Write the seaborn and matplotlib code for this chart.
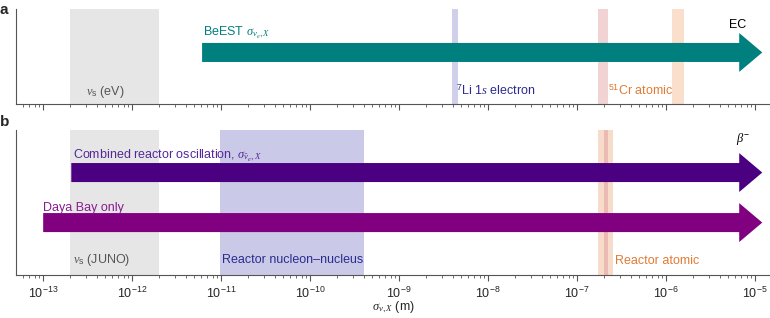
import matplotlib
matplotlib.use("Agg")
import matplotlib.pyplot as plt
import seaborn as sns

# x range of the log axis (m)
x_lim = (10 ** -13.30, 10 ** -4.834)

# panel a: background bands (start, end, colour)
bands_a = [
    (2.0e-13, 2.0e-12, "#e6e6e6"),   # nu_s (eV)
    (3.95e-9, 4.6e-9, "#d0d0eb"),    # 7Li 1s electron
    (1.72e-7, 2.23e-7, "#f1d3d3"),   # 51Cr atomic (pink)
    (1.17e-6, 1.59e-6, "#f9dfcc"),   # 51Cr atomic (peach)
]
# panel b: background bands
bands_b = [
    (2.0e-13, 2.0e-12, "#e6e6e6"),   # nu_s (JUNO)
    (9.8e-12, 4.05e-10, "#cacae8"),  # reactor nucleon-nucleus
    (1.72e-7, 2.5e-7, "#f8dccb"),    # reactor atomic (outer)
    (2.0e-7, 2.23e-7, "#ebbab3"),    # reactor atomic (inner)
]

# arrows: (start, tip, height in axes fraction, colour)
arrows_a = [(6.1e-12, 1.2e-5, 0.542, "#007f7f")]
arrows_b = [
    (2.07e-13, 1.2e-5, 0.707, "#4b0082"),  # combined reactor oscillation
    (1.0e-13, 1.2e-5, 0.362, "#800080"),   # Daya Bay only
]

# labels: (x, y in axes fraction, text, colour)
labels_a = [
    (10 ** -11.2, 0.73, r"BeEST $\sigma_{\nu_e,X}$", "#007f7f"),
    (10 ** -5.30, 0.80, "EC", "black"),
    (10 ** -12.52, 0.09, r"$\nu_{\rm s}$ (eV)", "#555555"),
    (10 ** -8.36, 0.09, r"$^{7}$Li 1$\it{s}$ electron", "#2b2b8f"),
    (10 ** -6.65, 0.09, r"$^{51}$Cr atomic", "#e07b35"),
]
labels_b = [
    (10 ** -12.67, 0.81, r"Combined reactor oscillation, $\sigma_{\bar{\nu}_e,X}$", "#55279a"),
    (10 ** -13.0, 0.445, "Daya Bay only", "#8a1a8f"),
    (10 ** -12.67, 0.08, r"$\nu_{\rm s}$ (JUNO)", "#555555"),
    (10 ** -10.99, 0.08, "Reactor nucleon\u2013nucleus", "#2b2b8f"),
    (10 ** -6.57, 0.075, "Reactor atomic", "#e07b35"),
    (10 ** -5.22, 0.92, r"$\beta^{-}$", "black"),
]

sns.set_style("ticks")
plt.rcParams["font.family"] = ["Liberation Sans", "DejaVu Sans"]
plt.rcParams["mathtext.fontset"] = "custom"
plt.rcParams["mathtext.rm"] = "Liberation Sans"
plt.rcParams["mathtext.it"] = "Liberation Serif:italic"
plt.rcParams["mathtext.bf"] = "Liberation Sans:bold"

FS = 9
fig = plt.figure(figsize=(7.7, 3.18), dpi=100)
ax_a = fig.add_axes([0.0214, 0.673, 0.9786, 0.299])
ax_b = fig.add_axes([0.0214, 0.135, 0.9786, 0.456])


def draw_panel(ax, bands, arrows, labels):
    ax.set_xscale("log")
    ax.set_xlim(*x_lim)
    ax.set_ylim(0, 1)
    for lo, hi, c in bands:
        ax.axvspan(lo, hi, color=c, lw=0, zorder=1)
    for x0, x1, y, c in arrows:
        ax.annotate(
            "", xy=(x1, y), xytext=(x0, y),
            xycoords=("data", "axes fraction"), textcoords=("data", "axes fraction"),
            arrowprops=dict(
                arrowstyle="simple,head_length=16.6,head_width=28,tail_width=13.7",
                mutation_scale=1, color=c, lw=0, shrinkA=0, shrinkB=0,
            ),
            zorder=3,
        )
    for x, y, s, c in labels:
        ax.text(x, y, s, color=c, fontsize=FS, va="baseline", ha="left",
                transform=ax.get_xaxis_transform(), zorder=4)
    ax.set_yticks([])
    sns.despine(ax=ax)
    for sp in ("left", "bottom"):
        ax.spines[sp].set_color("#555555")
        ax.spines[sp].set_linewidth(0.8)
    ax.tick_params(axis="x", which="major", length=4.5, width=0.8, color="#555555",
                   labelsize=FS, pad=3)
    ax.tick_params(axis="x", which="minor", length=2.5, width=0.6, color="#555555")
    ax.patch.set_alpha(0)


draw_panel(ax_a, bands_a, arrows_a, labels_a)
draw_panel(ax_b, bands_b, arrows_b, labels_b)
ax_a.tick_params(axis="x", which="both", labelbottom=False)
ax_b.set_xticks([10.0 ** e for e in range(-13, -4)])
ax_b.set_xlabel(r"$\sigma_{\nu,X}$ (m)", fontsize=FS, labelpad=-1)

fig.text(0.0, 0.99, "a", fontsize=11, fontweight="bold", va="top", ha="left")
fig.text(0.0, 0.637, "b", fontsize=11, fontweight="bold", va="top", ha="left")

fig.savefig("out.png", dpi=100)
